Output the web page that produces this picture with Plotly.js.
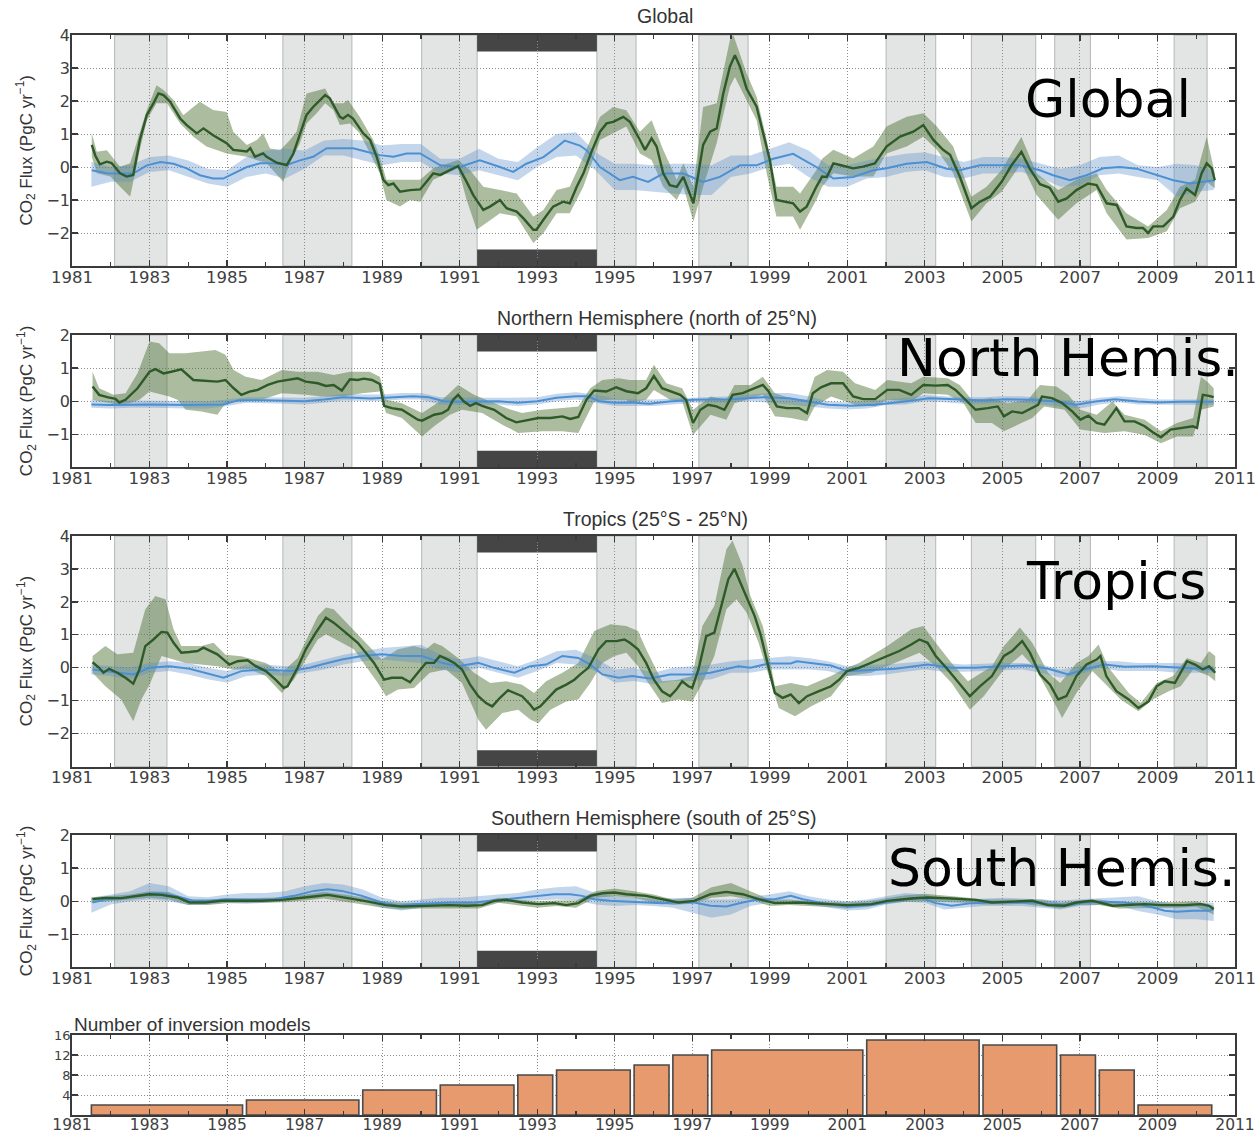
<!DOCTYPE html>
<html><head><meta charset="utf-8">
<script src="https://cdn.plot.ly/plotly-3.0.1.min.js"></script>
<style>html,body{margin:0;padding:0;background:#fff}#chart{width:1260px;height:1135px}</style>
</head><body><div id="chart"></div>
<script>
// ---------------- DATA ----------------
// shaded (grey) periods and Pinatubo period (years)
const shadeStart = [1982.1, 1986.44, 1990.02, 1994.54, 1997.17, 2002.0, 2004.2, 2006.35, 2009.43];
const shadeEnd   = [1983.45, 1988.22, 1991.45, 1995.55, 1998.44, 2003.28, 2005.86, 2007.27, 2010.28];
const pinatuboStart = 1991.45, pinatuboEnd = 1994.54;

// common half-year grid for band edges
const bandT = [1981.5,1982,1982.5,1983,1983.5,1984,1984.5,1985,1985.5,1986,1986.5,1987,1987.5,1988,1988.5,1989,1989.5,1990,
 1990.5,1991,1991.5,1992,1992.5,1993,1993.5,1994,1994.5,1995,1995.5,1996,1996.5,1997,1997.5,1998,1998.5,1999,1999.5,2000,
 2000.5,2001,2001.5,2002,2002.5,2003,2003.5,2004,2004.5,2005,2005.5,2006,2006.5,2007,2007.5,2008,2008.5,2009,2009.5,2010,2010.45];

// ---- Global ----
const globGreenT = [1981.51,1981.6,1981.72,1981.9,1982.02,1982.24,1982.41,1982.58,1982.75,1982.93,
 1983.1,1983.23,1983.36,1983.53,1983.79,1983.96,1984.22,1984.39,1984.64,1984.99,
 1985.16,1985.51,1985.6,1985.72,1985.93,1986.02,1986.28,1986.54,1986.71,1986.88,
 1987.05,1987.22,1987.4,1987.53,1987.65,1987.91,1987.99,1988.12,1988.25,1988.51,
 1988.69,1988.86,1989.03,1989.16,1989.29,1989.46,1989.72,1989.98,1990.15,1990.32,
 1990.5,1990.66,1990.96,1991.18,1991.35,1991.61,1991.78,1992.04,1992.21,1992.47,
 1992.64,1992.9,1992.98,1993.16,1993.41,1993.67,1993.84,1994.02,1994.19,1994.4,
 1994.62,1994.79,1994.96,1995.22,1995.39,1995.65,1995.78,1995.95,1996.08,1996.25,
 1996.42,1996.6,1996.77,1997.03,1997.15,1997.28,1997.46,1997.63,1997.8,1997.97,
 1998.1,1998.23,1998.4,1998.66,1998.83,1999.0,1999.17,1999.43,1999.6,1999.78,
 1999.95,2000.2,2000.35,2000.47,2000.64,2000.81,2001.15,2001.41,2001.71,2002.01,
 2002.36,2002.7,2002.96,2003.22,2003.47,2003.65,2003.9,2004.2,2004.42,2004.68,
 2004.98,2005.24,2005.49,2005.71,2005.97,2006.22,2006.44,2006.66,2006.91,2007.21,
 2007.43,2007.69,2007.95,2008.2,2008.46,2008.63,2008.76,2008.89,2009.15,2009.41,
 2009.58,2009.75,2009.97,2010.14,2010.27,2010.4,2010.48];
const globGreen = [0.67,0.35,0.08,0.16,0.12,-0.19,-0.29,-0.24,0.82,1.58,
 1.93,2.23,2.18,1.98,1.47,1.27,1.02,1.17,0.96,0.72,
 0.52,0.47,0.57,0.31,0.41,0.31,0.13,0.06,0.41,0.97,
 1.58,1.82,2.03,2.18,2.08,1.52,1.47,1.58,1.47,1.02,
 0.82,0.31,-0.39,-0.55,-0.5,-0.75,-0.7,-0.68,-0.44,-0.19,
 -0.24,-0.15,0.03,-0.45,-0.85,-1.3,-1.2,-1.0,-1.25,-1.35,
 -1.55,-1.9,-1.9,-1.6,-1.2,-1.05,-1.1,-0.6,-0.2,0.46,
 1.07,1.32,1.37,1.52,1.37,0.82,0.52,0.87,0.62,-0.19,
 -0.55,-0.6,-0.3,-1.1,-0.2,0.67,1.07,1.17,2.23,3.04,
 3.39,3.04,2.38,1.83,1.02,0.21,-1.0,-1.05,-1.1,-1.35,
 -1.2,-0.6,-0.29,-0.3,0.11,0.06,-0.04,0.01,0.11,0.62,
 0.92,1.07,1.27,0.82,0.52,0.37,-0.29,-1.25,-1.05,-0.9,
 -0.45,0.06,0.46,-0.06,-0.52,-0.63,-1.05,-0.95,-0.7,-0.5,
 -0.55,-1.1,-1.15,-1.8,-1.85,-1.85,-2.0,-1.8,-1.8,-1.5,
 -1.0,-0.65,-0.85,-0.19,0.11,-0.04,-0.4];
const globGreenUpT = [1981.51,1981.64,1981.9,1982.24,1982.5,1982.75,1982.93,1983.18,1983.36,1983.62,
 1983.87,1984.13,1984.3,1984.64,1984.99,1985.16,1985.51,1985.77,1985.93,1986.11,
 1986.37,1986.62,1986.79,1987.05,1987.22,1987.53,1987.74,1988.0,1988.12,1988.42,
 1988.77,1988.94,1989.11,1989.46,1989.98,1990.32,1990.96,1991.27,1991.61,1992.04,
 1992.47,1992.9,1993.16,1993.5,1993.84,1994.19,1994.62,1994.96,1995.3,1995.65,
 1995.95,1996.25,1996.6,1996.77,1997.03,1997.28,1997.63,1997.97,1998.06,1998.4,
 1998.66,1998.92,1999.17,1999.6,1999.78,2000.2,2000.35,2000.64,2001.15,2001.67,
 2002.01,2002.53,2002.96,2003.31,2003.73,2004.2,2004.59,2004.98,2005.49,2005.88,
 2006.44,2006.91,2007.43,2007.69,2008.2,2008.76,2009.24,2009.58,2009.97,2010.27,2010.48];
const globGreenUp = [1.02,0.46,0.51,0.01,0.11,1.02,1.73,2.48,2.33,2.03,
 1.57,1.82,1.98,1.73,1.67,1.07,0.67,0.82,1.02,0.56,
 0.51,0.82,1.07,2.23,2.28,2.38,1.93,1.93,2.03,1.52,
 0.82,0.31,-0.39,-0.39,-0.39,-0.04,0.21,-0.1,-0.6,-0.7,
 -0.8,-1.5,-1.3,-0.7,-0.6,0.31,1.52,1.82,1.72,1.07,
 1.42,0.52,-0.39,0.11,-0.6,1.82,1.93,3.85,4.0,2.84,
 2.13,0.82,-0.6,-0.6,-0.8,-0.1,0.25,0.52,0.26,0.62,
 1.23,1.52,1.63,1.23,0.62,-0.9,-0.6,-0.09,0.92,-0.19,
 -0.7,-0.39,-0.19,-0.7,-1.4,-1.8,-1.3,-0.6,-0.39,0.92,-0.19];
const globGreenLoT = [1981.51,1981.64,1981.99,1982.24,1982.5,1982.75,1982.93,1983.18,1983.45,1983.79,
 1984.13,1984.47,1984.99,1985.51,1986.02,1986.45,1986.62,1986.88,1987.05,1987.31,
 1987.53,1987.74,1987.91,1988.17,1988.42,1988.69,1988.94,1989.11,1989.46,1989.72,
 1989.98,1990.32,1990.96,1991.18,1991.44,1992.04,1992.47,1992.9,1993.16,1993.5,
 1993.84,1994.19,1994.62,1994.96,1995.3,1995.65,1995.95,1996.25,1996.6,1996.77,
 1997.03,1997.28,1997.63,1997.97,1998.1,1998.4,1998.66,1998.92,1999.17,1999.6,
 1999.78,2000.2,2000.35,2000.64,2001.15,2001.67,2002.01,2002.53,2002.96,2003.31,
 2003.73,2004.2,2004.59,2004.98,2005.49,2005.88,2006.44,2006.91,2007.43,2007.69,
 2008.2,2008.76,2009.24,2009.58,2009.97,2010.27,2010.48];
const globGreenLo = [0.31,-0.19,-0.29,-0.6,-0.9,0.52,1.42,1.93,1.93,1.32,
 0.92,0.62,0.41,0.31,0.11,-0.45,0.11,0.72,1.32,1.63,
 1.93,1.73,1.27,1.32,1.02,0.41,-0.19,-1.0,-1.2,-1.0,
 -1.05,-0.39,-0.04,-1.0,-1.9,-1.4,-1.5,-2.3,-2.0,-1.4,
 -1.4,-0.6,0.82,1.02,1.23,0.41,0.21,-0.6,-1.0,-0.6,
 -1.65,-0.6,0.72,2.43,2.73,2.03,1.42,-0.19,-1.5,-1.5,
 -1.9,-1.0,-0.6,-0.19,-0.29,-0.29,0.41,0.62,0.92,0.52,
 -0.19,-1.65,-1.1,-0.75,0.11,-0.85,-1.6,-1.1,-0.7,-1.4,
 -2.2,-2.15,-1.95,-1.25,-1.05,-0.45,-0.65];
const globBlueT = [1981.51,1981.9,1982.24,1982.58,1982.93,1983.28,1983.62,1983.96,1984.3,1984.64,
 1984.9,1985.16,1985.51,1985.85,1986.19,1986.54,1986.88,1987.22,1987.57,1987.91,
 1988.25,1988.6,1988.94,1989.29,1989.63,1989.98,1990.5,1991.0,1991.52,1992.04,
 1992.38,1992.72,1993.16,1993.5,1993.71,1994.1,1994.28,1994.62,1995.13,1995.47,
 1995.86,1996.25,1996.77,1997.28,1997.71,1998.23,1998.66,1999.09,1999.6,2000.2,
 2000.64,2001.15,2001.67,2002.01,2002.53,2003.05,2003.56,2003.9,2004.42,2004.94,
 2005.45,2005.97,2006.31,2006.74,2007.17,2007.6,2008.03,2008.46,2008.89,2009.41,
 2009.84,2010.18,2010.48];
const globBlue = [-0.1,-0.19,-0.2,-0.2,0.05,0.15,0.1,-0.04,-0.25,-0.35,
 -0.35,-0.2,0.0,0.11,0.11,0.06,0.2,0.31,0.57,0.57,
 0.57,0.46,0.36,0.31,0.41,0.41,0.05,0.0,0.2,0.0,
 -0.15,0.1,0.3,0.6,0.8,0.65,0.5,0.0,-0.4,-0.3,
 -0.45,-0.2,-0.2,-0.45,-0.3,0.05,0.05,0.25,0.4,0.0,
 -0.35,-0.3,-0.1,-0.04,0.1,0.15,-0.05,-0.1,0.05,0.05,
 0.05,-0.1,-0.25,-0.4,-0.25,-0.04,0.0,-0.05,-0.2,-0.4,
 -0.5,-0.45,-0.4];
const globBlueUp = [0.15,0.0,0.05,0.3,0.35,0.2,-0.05,-0.1,0.3,0.5,0.55,0.5,0.8,0.85,0.8,0.65,0.7,0.7,
 0.25,0.25,0.55,0.25,0.15,0.6,1.0,1.05,0.45,0.1,0.1,0.05,0.1,0.1,0.05,0.35,0.35,0.55,0.75,0.5,
 0.05,0.05,0.2,0.3,0.4,0.45,0.3,0.15,0.3,0.3,0.25,0.1,-0.05,0.05,0.3,0.35,0.05,0.0,0.1,0.05,-0.1];
const globBlueLo = [-0.6,-0.45,-0.45,-0.15,-0.1,-0.3,-0.5,-0.6,-0.3,-0.2,-0.35,-0.05,0.35,0.35,0.2,0.05,0.15,0.15,
 -0.2,-0.25,-0.1,-0.25,-0.4,0.0,0.3,0.35,-0.1,-0.7,-0.7,-0.75,-0.8,-0.85,-0.85,-0.3,-0.2,0.0,0.1,-0.3,
 -0.6,-0.6,-0.35,-0.3,-0.15,-0.1,-0.3,-0.35,-0.2,-0.2,-0.15,-0.35,-0.6,-0.55,-0.25,-0.2,-0.3,-0.4,-0.9,-0.75,-0.7];

// ---- Northern Hemisphere ----
const nhGreenT = [1981.53,1981.7,1981.91,1982.12,1982.22,1982.38,1982.69,1983.0,1983.15,1983.36,
 1983.56,1983.82,1984.13,1984.44,1984.75,1984.96,1985.17,1985.37,1985.58,1985.79,
 1986.05,1986.3,1986.62,1986.82,1987.03,1987.34,1987.55,1987.75,1987.96,1988.17,
 1988.37,1988.53,1988.74,1988.94,1989.05,1989.25,1989.51,1989.72,1989.92,1990.03,
 1990.34,1990.55,1990.7,1990.83,1990.96,1991.11,1991.27,1991.42,1991.58,1991.89,
 1992.2,1992.46,1992.72,1993.03,1993.34,1993.65,1993.85,1994.06,1994.27,1994.47,
 1994.78,1995.04,1995.3,1995.6,1995.81,1996.01,1996.22,1996.43,1996.69,1996.84,
 1997.02,1997.21,1997.41,1997.62,1997.83,1998.04,1998.3,1998.5,1998.82,1998.97,
 1999.18,1999.44,1999.75,1999.96,2000.11,2000.32,2000.58,2000.89,2001.15,2001.41,
 2001.72,2002.03,2002.34,2002.65,2002.96,2003.28,2003.59,2003.79,2004.05,2004.31,
 2004.62,2004.88,2005.04,2005.25,2005.51,2005.77,2005.92,2006.02,2006.28,2006.54,
 2006.8,2007.01,2007.22,2007.43,2007.63,2007.94,2008.15,2008.41,2008.67,2008.88,
 2009.09,2009.34,2009.6,2009.91,2010.02,2010.17,2010.33,2010.45];
const nhGreen = [0.44,0.19,0.12,0.07,-0.04,0.04,0.39,0.89,0.97,0.84,
 0.89,0.96,0.64,0.62,0.59,0.64,0.39,0.19,0.29,0.34,
 0.49,0.59,0.64,0.69,0.59,0.54,0.46,0.49,0.32,0.66,
 0.64,0.68,0.64,0.52,-0.14,-0.21,-0.26,-0.41,-0.56,-0.59,
 -0.41,-0.36,-0.26,0.04,0.19,-0.01,-0.14,-0.06,-0.14,-0.26,
 -0.51,-0.64,-0.58,-0.51,-0.51,-0.46,-0.54,-0.48,0.04,0.32,
 0.29,0.42,0.3,0.24,0.39,0.76,0.39,0.29,0.19,0.04,
 -0.66,-0.26,-0.11,-0.16,-0.26,0.19,0.24,0.34,0.49,0.29,
 -0.16,-0.21,-0.21,-0.36,0.24,0.42,0.54,0.54,0.14,0.06,
 0.06,0.34,0.34,0.19,0.49,0.47,0.49,0.34,0.04,-0.26,
 -0.21,-0.16,-0.46,-0.31,-0.36,-0.21,-0.11,0.14,0.09,-0.06,
 -0.31,-0.56,-0.44,-0.66,-0.71,-0.21,-0.61,-0.61,-0.76,-0.94,
 -1.09,-0.86,-0.81,-0.76,-0.81,0.19,0.16,0.12];
const nhGreenUpT = [1981.53,1981.7,1982.07,1982.38,1982.69,1983.0,1983.25,1983.51,1983.93,1984.34,
 1984.7,1984.96,1985.17,1985.48,1985.89,1986.41,1986.82,1987.34,1987.75,1988.17,
 1988.68,1988.94,1989.1,1989.51,1990.03,1990.55,1990.96,1991.37,1991.79,1992.2,
 1992.61,1993.13,1993.65,1994.06,1994.37,1994.68,1995.1,1995.39,1995.81,1996.01,
 1996.33,1996.74,1997.02,1997.47,1997.88,1998.09,1998.5,1998.82,1999.13,1999.54,
 1999.96,2000.16,2000.48,2000.89,2001.2,2001.72,2002.03,2002.65,2002.96,2003.59,
 2003.9,2004.21,2004.73,2005.14,2005.66,2005.97,2006.39,2006.7,2007.01,2007.43,
 2007.84,2008.15,2008.67,2009.09,2009.5,2009.92,2010.12,2010.33,2010.45];
const nhGreenUp = [0.89,0.39,0.19,0.24,0.84,1.8,1.75,1.45,1.45,1.5,
 1.55,1.4,0.94,0.74,0.64,0.94,0.89,0.89,0.79,0.89,
 0.89,0.74,0.04,-0.06,-0.36,0.04,0.49,0.19,-0.01,-0.21,
 -0.36,-0.26,-0.21,-0.16,0.39,0.64,0.69,0.64,0.64,1.1,
 0.54,0.39,-0.26,0.14,0.04,0.49,0.49,0.74,0.24,0.09,
 0.04,0.74,0.94,0.89,0.54,0.34,0.64,0.54,0.74,0.69,
 0.49,0.04,0.09,-0.06,0.04,0.49,0.44,0.19,-0.26,-0.41,
 -0.01,-0.41,-0.56,-0.91,-0.66,-0.51,0.74,0.54,0.39];
const nhGreenLoT = [1981.53,1981.75,1982.17,1982.48,1982.74,1983.0,1983.31,1983.51,1983.72,1983.93,
 1984.34,1984.75,1984.96,1985.37,1985.89,1986.41,1987.03,1987.44,1987.96,1988.48,
 1988.94,1989.1,1989.51,1990.03,1990.34,1990.75,1991.06,1991.58,1992.1,1992.51,
 1993.13,1993.65,1994.06,1994.27,1994.47,1994.89,1995.3,1995.39,1995.81,1996.01,
 1996.43,1996.74,1997.02,1997.47,1997.88,1998.09,1998.5,1998.82,1999.13,1999.54,
 1999.96,2000.16,2000.58,2001.2,2001.72,2002.03,2002.65,2002.96,2003.59,2004.0,
 2004.31,2004.73,2005.04,2005.77,2006.08,2006.6,2007.01,2007.63,2008.15,2008.67,
 2009.09,2009.5,2009.92,2010.12,2010.45];
const nhGreenLo = [0.04,-0.01,-0.11,-0.06,0.04,0.29,0.19,0.14,0.04,-0.26,
 -0.31,-0.41,-0.06,-0.01,0.04,0.24,0.19,0.14,0.14,0.24,
 0.29,-0.36,-0.51,-1.07,-0.76,-0.41,-0.26,-0.36,-0.71,-0.96,
 -0.91,-0.91,-0.96,-0.46,-0.01,0.04,0.04,-0.06,0.04,0.34,
 0.04,-0.01,-1.02,-0.41,-0.56,-0.06,0.09,0.19,-0.46,-0.51,
 -0.61,-0.16,0.14,-0.11,-0.16,0.04,-0.01,0.24,0.19,-0.06,
 -0.66,-0.66,-0.91,-0.51,-0.16,-0.26,-0.86,-0.96,-0.91,-1.02,
 -1.27,-1.07,-1.07,-0.26,-0.16];
const nhBlueT = [1981.5,1982,1983,1984,1984.9,1985.3,1986,1987,1987.5,1988,
 1988.7,1989.3,1989.8,1990.2,1990.6,1991,1991.5,1992,1992.5,1993,
 1993.5,1994,1994.3,1994.6,1995,1995.4,1995.9,1996.4,1997.05,1998,
 1998.82,1999.5,2000,2000.5,2001.1,2001.7,2002.5,2003.1,2003.8,2004.5,
 2005.1,2005.75,2006.4,2006.9,2007.4,2007.9,2008.5,2009,2009.6,2010.45];
const nhBlue = [-0.1,-0.12,-0.1,-0.12,-0.1,0.03,0.03,0.0,0.05,0.12,
 0.08,0.12,0.15,0.12,0.0,-0.02,-0.02,0.0,-0.05,0.0,
 0.1,0.15,0.15,0.0,-0.05,-0.04,-0.08,-0.01,0.04,0.06,
 0.12,0.09,-0.01,-0.11,-0.14,-0.11,-0.01,0.09,0.06,0.02,
 0.06,0.04,-0.01,-0.11,-0.01,0.06,-0.01,-0.04,-0.02,-0.02];
const nhBlueUp = [0.05,0.0,0.02,0.02,0.02,0.0,0.0,0.05,0.12,0.12,0.1,0.1,0.15,0.22,0.2,0.2,0.25,0.25,
 0.12,0.1,0.1,0.1,0.1,0.12,0.22,0.27,0.2,0.08,0.05,0.05,0.08,0.1,0.12,0.15,0.2,0.25,0.25,0.15,
 0.0,-0.03,0.0,0.05,0.1,0.18,0.15,0.12,0.12,0.15,0.15,0.1,0.05,0.0,0.1,0.15,0.1,0.05,0.05,0.05,0.05];
const nhBlueLo = [-0.2,-0.22,-0.2,-0.2,-0.2,-0.22,-0.22,-0.15,-0.05,-0.07,-0.08,-0.1,-0.05,0.02,0.0,0.0,0.05,0.05,
 -0.1,-0.12,-0.12,-0.1,-0.15,-0.1,0.0,0.05,-0.05,-0.15,-0.15,-0.15,-0.1,-0.05,-0.05,-0.03,0.0,-0.05,-0.1,-0.15,
 -0.22,-0.25,-0.22,-0.12,-0.1,0.0,-0.03,-0.08,-0.08,-0.05,-0.05,-0.1,-0.15,-0.22,-0.1,-0.03,-0.1,-0.12,-0.12,-0.12,-0.12];

// ---- Tropics ----
const trGreenT = [1981.53,1981.7,1981.81,1981.96,1982.17,1982.38,1982.58,1982.74,1982.89,1983.1,
 1983.31,1983.46,1983.62,1983.82,1984.03,1984.24,1984.39,1984.55,1984.75,1984.91,
 1985.06,1985.27,1985.53,1985.74,1986.0,1986.25,1986.46,1986.56,1986.82,1987.03,
 1987.29,1987.55,1987.75,1988.06,1988.37,1988.58,1988.79,1989.05,1989.25,1989.51,
 1989.72,1989.92,1990.13,1990.34,1990.49,1990.7,1990.86,1991.06,1991.27,1991.48,
 1991.68,1991.84,1992.04,1992.25,1992.51,1992.61,1992.82,1992.92,1993.08,1993.29,
 1993.49,1993.75,1993.96,1994.11,1994.32,1994.58,1994.78,1995.04,1995.25,1995.39,
 1995.6,1995.81,1996.01,1996.22,1996.43,1996.59,1996.74,1996.9,1997.0,1997.16,
 1997.36,1997.57,1997.78,1997.93,1998.09,1998.24,1998.4,1998.61,1998.76,1998.97,
 1999.13,1999.33,1999.54,1999.75,1999.96,2000.27,2000.58,2000.79,2000.99,2001.3,
 2001.62,2002.03,2002.34,2002.65,2002.86,2003.07,2003.28,2003.59,2003.9,2004.16,
 2004.42,2004.73,2005.04,2005.25,2005.51,2005.71,2005.97,2006.23,2006.44,2006.65,
 2006.91,2007.17,2007.43,2007.53,2007.68,2007.94,2008.26,2008.51,2008.77,2008.98,
 2009.19,2009.45,2009.76,2009.97,2010.17,2010.33,2010.49];
const trGreen = [0.17,0.0,-0.15,-0.03,-0.15,-0.3,-0.48,-0.05,0.66,0.86,
 1.09,1.07,0.76,0.46,0.48,0.51,0.61,0.51,0.41,0.25,
 0.1,0.2,0.23,0.05,-0.1,-0.36,-0.61,-0.56,0.0,0.56,
 1.07,1.52,1.37,1.07,0.76,0.46,0.15,-0.36,-0.3,-0.3,
 -0.44,-0.15,0.15,0.15,0.36,0.25,0.15,-0.05,-0.51,-0.86,
 -1.07,-1.17,-0.91,-0.68,-0.81,-0.86,-1.12,-1.27,-1.17,-0.91,
 -0.66,-0.51,-0.36,-0.2,0.0,0.56,0.81,0.81,0.86,0.76,
 0.56,0.15,-0.36,-0.71,-0.86,-0.66,-0.41,-0.56,-0.61,-0.05,
 0.96,1.07,1.98,2.69,3.0,2.59,2.13,1.57,1.02,0.05,
 -0.76,-0.91,-0.81,-1.07,-0.86,-0.71,-0.56,-0.36,-0.1,0.0,
 0.15,0.36,0.51,0.71,0.86,0.76,0.36,-0.05,-0.51,-0.86,
 -0.56,-0.25,0.36,0.51,0.81,0.46,-0.2,-0.51,-0.96,-0.86,
 -0.25,0.1,0.25,0.36,-0.25,-0.71,-0.96,-1.22,-1.02,-0.56,
 -0.41,-0.46,0.2,0.1,-0.05,0.05,-0.15];
const trGreenUpT = [1981.53,1981.86,1982.17,1982.58,1982.89,1983.15,1983.41,1983.62,1983.82,1984.34,
 1984.65,1984.96,1985.37,1986.0,1986.41,1986.82,1987.34,1987.55,1987.75,1988.17,
 1988.58,1988.99,1989.41,1989.82,1990.13,1990.34,1990.55,1990.96,1991.37,1991.79,
 1992.2,1992.61,1992.92,1993.23,1993.65,1994.06,1994.47,1994.89,1995.3,1995.6,
 1995.81,1996.22,1996.64,1997.0,1997.26,1997.57,1997.88,1998.04,1998.3,1998.5,
 1998.82,1998.97,1999.13,1999.54,1999.96,2000.58,2000.89,2001.3,2002.03,2002.65,
 2002.96,2003.28,2003.69,2004.11,2004.73,2005.04,2005.45,2005.77,2006.18,2006.49,
 2006.91,2007.22,2007.48,2007.74,2008.26,2008.57,2008.98,2009.4,2009.76,2010.12,
 2010.33,2010.49];
const trGreenUp = [0.36,0.66,0.41,0.46,1.78,2.18,2.08,1.17,0.66,0.66,
 0.76,0.4,0.35,0.15,-0.15,0.3,1.57,1.83,1.78,1.27,
 0.76,0.25,0.56,0.66,0.56,0.76,0.66,0.3,-0.15,-0.46,
 -0.41,-0.51,-0.76,-0.41,-0.15,0.15,1.12,1.32,1.27,1.12,
 0.56,-0.41,-0.36,-0.25,1.27,1.88,3.6,3.86,3.1,2.18,
 1.27,0.46,-0.56,-0.46,-0.56,-0.25,-0.05,0.15,0.66,1.17,
 1.27,0.76,0.15,-0.41,0.05,0.66,1.22,0.76,-0.15,-0.46,
 0.15,0.36,0.71,0.0,-0.76,-1.07,-0.46,-0.25,0.3,0.15,
 0.51,0.36];
const trGreenLoT = [1981.53,1981.86,1982.27,1982.58,1982.79,1983.0,1983.31,1983.62,1983.93,1984.34,
 1984.75,1985.17,1985.58,1986.0,1986.41,1986.72,1987.03,1987.34,1987.55,1987.96,
 1988.27,1988.58,1988.89,1989.1,1989.41,1989.82,1990.23,1990.65,1991.06,1991.48,
 1991.68,1992.1,1992.51,1992.82,1993.03,1993.34,1993.75,1994.06,1994.37,1994.68,
 1994.99,1995.3,1995.6,1995.81,1996.22,1996.64,1997.0,1997.26,1997.57,1997.88,
 1998.14,1998.4,1998.71,1998.97,1999.23,1999.65,2000.06,2000.58,2000.99,2001.62,
 2002.24,2002.86,2003.28,2003.69,2004.16,2004.52,2005.04,2005.51,2005.87,2006.39,
 2006.54,2006.91,2007.32,2007.63,2008.05,2008.51,2008.88,2009.29,2009.6,2009.92,
 2010.33,2010.49];
const trGreenLo = [-0.15,-0.56,-0.96,-1.62,-0.96,-0.51,0.36,0.25,0.15,0.1,
 0.05,-0.05,-0.05,-0.25,-0.76,-0.36,0.25,0.86,1.02,0.76,
 0.56,0.05,-0.46,-0.86,-0.66,-0.61,-0.15,-0.05,-0.46,-1.57,
 -1.88,-1.37,-1.27,-1.57,-1.68,-1.27,-1.02,-0.96,-0.46,0.15,
 0.36,0.46,0.05,-0.36,-1.07,-0.96,-1.02,-0.46,0.36,1.78,
 2.08,1.68,0.76,-0.25,-1.22,-1.47,-1.17,-0.86,-0.25,-0.15,
 0.15,0.46,0.05,-0.46,-1.27,-0.86,-0.05,0.41,-0.05,-1.17,
 -1.52,-0.76,-0.1,-0.46,-0.96,-1.32,-0.96,-0.71,-0.56,-0.05,
 -0.25,-0.41];
const trBlueT = [1981.53,1981.86,1982.27,1982.58,1983.0,1983.51,1984.03,1984.55,1984.91,1985.37,
 1985.89,1986.62,1987.13,1987.44,1987.96,1988.48,1988.99,1989.51,1990.03,1990.55,
 1990.96,1991.48,1991.89,1992.41,1992.82,1993.23,1993.65,1994.06,1994.37,1994.68,
 1995.1,1995.45,1995.9,1996.43,1997.05,1997.47,1998.19,1998.5,1998.97,1999.54,
 1999.7,2000.16,2000.58,2000.99,2001.62,2002.24,2003.07,2003.69,2004.31,2004.94,
 2005.66,2006.18,2006.7,2007.11,2007.63,2008.15,2008.88,2009.6,2010.12,2010.49];
const trBlue = [-0.05,-0.1,-0.15,-0.2,0.0,0.05,-0.03,-0.2,-0.3,-0.1,
 -0.05,-0.1,0.0,0.1,0.25,0.36,0.41,0.36,0.36,0.15,
 0.05,0.15,0.0,-0.15,0.05,0.1,0.36,0.3,0.1,-0.2,
 -0.3,-0.25,-0.32,-0.2,-0.2,-0.15,0.05,0.0,0.13,0.13,
 0.2,0.13,0.07,-0.1,-0.07,-0.03,0.1,0.0,0.0,0.05,
 0.07,-0.03,-0.2,-0.05,0.1,0.03,0.05,0.0,-0.03,-0.05];
const trBlueUp = [0.1,0.05,0.0,0.15,0.2,0.15,0.0,-0.1,0.1,0.1,0.05,0.1,0.25,0.4,0.5,0.6,0.65,0.7,
 0.4,0.25,0.35,0.2,0.05,0.25,0.5,0.55,0.3,-0.05,0.0,-0.15,0.0,0.05,0.1,0.2,0.25,0.3,0.35,0.3,
 0.2,0.05,0.1,0.1,0.15,0.2,0.15,0.1,0.12,0.15,0.15,0.1,-0.05,0.05,0.2,0.2,0.15,0.15,0.15,0.1,0.05];
const trBlueLo = [-0.2,-0.25,-0.35,-0.15,-0.1,-0.2,-0.35,-0.45,-0.25,-0.2,-0.25,-0.15,-0.05,0.1,0.2,0.25,0.2,0.15,
 -0.05,-0.15,0.0,-0.15,-0.3,-0.1,0.15,0.1,-0.1,-0.45,-0.4,-0.5,-0.4,-0.4,-0.35,-0.15,-0.15,-0.05,-0.05,-0.05,
 -0.1,-0.25,-0.25,-0.2,-0.12,-0.05,-0.12,-0.12,-0.1,-0.08,-0.05,-0.15,-0.3,-0.2,0.0,-0.1,-0.1,-0.1,-0.15,-0.15,-0.15];

// ---- Southern Hemisphere ----
const shGreenT = [1981.53,1981.86,1982.27,1982.69,1983.0,1983.31,1983.72,1984.03,1984.44,1984.86,
 1985.37,1985.89,1986.41,1986.82,1987.24,1987.6,1987.96,1988.27,1988.68,1989.1,
 1989.51,1989.92,1990.34,1990.75,1991.17,1991.58,1991.89,1992.2,1992.61,1993.03,
 1993.44,1993.75,1994.06,1994.37,1994.68,1994.99,1995.3,1995.81,1996.22,1996.64,
 1997.05,1997.47,1997.88,1998.3,1998.71,1999.13,1999.75,2000.37,2000.99,2001.62,
 2002.03,2002.65,2003.07,2003.69,2004.31,2004.73,2005.35,2005.77,2006.18,2006.6,
 2006.91,2007.32,2007.84,2008.36,2008.67,2009.09,2009.71,2010.12,2010.33,2010.45];
const shGreen = [0.06,0.1,0.09,0.16,0.21,0.19,0.11,-0.04,-0.04,0.01,
 0.01,0.01,0.04,0.08,0.14,0.19,0.11,0.06,-0.02,-0.12,
 -0.16,-0.14,-0.14,-0.12,-0.14,-0.12,0.01,0.04,-0.04,-0.09,
 -0.06,-0.12,-0.06,0.16,0.24,0.26,0.21,0.16,0.06,-0.04,
 0.01,0.21,0.28,0.21,0.06,-0.06,-0.04,-0.09,-0.12,-0.09,
 0.01,0.08,0.11,0.08,0.04,-0.04,-0.02,0.01,-0.12,-0.14,
 -0.04,0.01,-0.14,-0.12,-0.09,-0.12,-0.12,-0.09,-0.14,-0.24];
const shGreenUp = [0.12,0.15,0.2,0.3,0.28,0.05,0.05,0.08,0.08,0.1,0.12,0.2,0.28,0.2,0.12,0.0,-0.05,-0.05,
 -0.05,-0.03,-0.03,0.1,0.05,0.0,0.02,0.02,0.3,0.38,0.3,0.2,0.05,0.1,0.42,0.55,0.3,0.05,0.05,0.0,
 -0.02,-0.03,0.0,0.1,0.18,0.22,0.18,0.12,0.05,0.05,0.05,0.05,-0.05,0.03,0.05,-0.05,-0.02,-0.03,-0.03,0.0,-0.15];
const shGreenLo = [-0.05,0.0,0.05,0.1,0.05,-0.12,-0.12,-0.06,-0.06,-0.05,-0.03,0.02,0.08,0.0,-0.1,-0.2,-0.25,-0.22,
 -0.2,-0.22,-0.22,-0.05,-0.12,-0.2,-0.15,-0.2,0.1,0.15,0.1,-0.05,-0.12,-0.08,0.1,0.15,0.05,-0.15,-0.12,-0.15,
 -0.18,-0.22,-0.18,-0.08,-0.02,0.0,-0.02,-0.05,-0.1,-0.1,-0.08,-0.15,-0.22,-0.12,-0.12,-0.22,-0.2,-0.2,-0.2,-0.17,-0.4];
const shBlueT = [1981.53,1981.86,1982.27,1982.69,1983.0,1983.31,1983.72,1984.13,1984.55,1984.96,
 1985.58,1986.2,1986.72,1987.24,1987.6,1987.96,1988.48,1988.99,1989.41,1989.82,
 1990.34,1990.75,1991.37,1991.79,1992.2,1992.61,1993.03,1993.44,1993.85,1994.16,
 1994.47,1994.89,1995.39,1995.81,1996.22,1996.64,1997.05,1997.47,1997.88,1998.3,
 1998.71,1999.13,1999.54,1999.85,2000.37,2000.99,2001.62,2002.24,2002.86,2003.28,
 2003.69,2004.21,2004.73,2005.35,2005.77,2006.28,2006.7,2007.11,2007.63,2008.15,
 2008.46,2008.88,2009.19,2009.5,2009.92,2010.33,2010.45];
const shBlue = [-0.04,0.06,0.08,0.16,0.23,0.24,0.14,0.01,0.01,0.06,
 0.04,0.06,0.16,0.31,0.36,0.31,0.16,-0.04,-0.14,-0.09,
 -0.06,-0.04,-0.04,0.01,0.06,0.11,0.16,0.21,0.21,0.16,
 0.06,0.01,-0.02,-0.04,-0.06,-0.04,-0.04,-0.14,-0.16,-0.04,
 0.06,0.06,0.16,0.06,-0.06,-0.16,-0.12,0.01,0.11,-0.06,
 -0.14,-0.06,-0.04,-0.04,-0.04,-0.09,-0.12,-0.04,-0.02,-0.04,
 -0.09,-0.19,-0.29,-0.32,-0.29,-0.29,-0.24];
const shBlueUp = [0.1,0.2,0.3,0.55,0.45,0.15,0.12,0.2,0.25,0.25,0.3,0.45,0.55,0.5,0.35,0.1,0.0,0.05,
 0.1,0.1,0.15,0.2,0.25,0.35,0.42,0.45,0.25,0.15,0.1,0.08,0.1,0.1,0.05,0.05,0.12,0.2,0.3,0.15,
 0.05,0.0,0.05,0.15,0.25,0.2,0.05,0.05,0.08,0.1,0.08,0.05,0.02,0.06,0.1,0.12,0.15,0.0,-0.1,-0.05,-0.05];
const shBlueLo = [-0.35,-0.1,0.0,0.05,0.0,-0.12,-0.1,-0.05,-0.08,-0.05,0.0,0.1,0.18,0.12,0.0,-0.2,-0.28,-0.2,
 -0.15,-0.15,-0.12,-0.05,0.0,0.02,0.05,0.02,-0.1,-0.15,-0.12,-0.15,-0.2,-0.35,-0.5,-0.4,-0.15,-0.05,0.02,-0.1,
 -0.2,-0.28,-0.25,-0.1,-0.02,-0.05,-0.25,-0.2,-0.15,-0.15,-0.15,-0.2,-0.25,-0.15,-0.12,-0.15,-0.3,-0.4,-0.55,-0.55,-0.6];

// ---- Number of inversion models ----
const binStart = [1981.5,1985.5,1988.5,1990.5,1992.5,1993.5,1995.5,1996.5,1997.5,2001.5,2004.5,2006.5,2007.5,2008.5];
const binEnd   = [1985.4,1988.4,1990.4,1992.4,1993.4,1995.4,1996.4,1997.4,2001.4,2004.4,2006.4,2007.4,2008.4,2010.4];
const nModels  = [2,3,5,6,8,9,10,12,13,15,14,12,9,2];

const panelTitles = ['Global','Northern Hemisphere (north of 25°N)','Tropics (25°S - 25°N)','Southern Hemisphere (south of 25°S)'];
const bigLabels = ['Global','North Hemis.','Tropics','South Hemis.'];
const yTitle = 'CO<sub>2</sub> Flux (PgC yr<sup>−1</sup>)';
const barTitle = 'Number of inversion models';

// ---------------- LAYOUT / STYLE ----------------
const W = 1260, H = 1135, ML = 72, MR = 25;
const PW = W - ML - MR;
const px2x = p => (p - ML) / PW;
const py2y = p => 1 - p / H;

const series = [
  {gT:globGreenT,g:globGreen,gUT:globGreenUpT,gU:globGreenUp,gLT:globGreenLoT,gL:globGreenLo,bT:globBlueT,b:globBlue,bU:globBlueUp,bL:globBlueLo},
  {gT:nhGreenT,g:nhGreen,gUT:nhGreenUpT,gU:nhGreenUp,gLT:nhGreenLoT,gL:nhGreenLo,bT:nhBlueT,b:nhBlue,bU:nhBlueUp,bL:nhBlueLo},
  {gT:trGreenT,g:trGreen,gUT:trGreenUpT,gU:trGreenUp,gLT:trGreenLoT,gL:trGreenLo,bT:trBlueT,b:trBlue,bU:trBlueUp,bL:trBlueLo},
  {gT:shGreenT,g:shGreen,gUT:bandT,gU:shGreenUp,gLT:bandT,gL:shGreenLo,bT:shBlueT,b:shBlue,bU:shBlueUp,bL:shBlueLo}
];
const frames = [
  {top:35,  bot:266,   yr:[-3,4], tv:[-2,-1,0,1,2,3,4], titleY:16,  titleX:665, labR:1193, labY:99},
  {top:335, bot:467.3, yr:[-2,2], tv:[-1,0,1,2],        titleY:318, titleX:657, labR:1241, labY:358},
  {top:536, bot:766.7, yr:[-3,4], tv:[-2,-1,0,1,2,3,4], titleY:519, titleX:655, labR:1208, labY:581},
  {top:835, bot:967.3, yr:[-2,2], tv:[-1,0,1,2],        titleY:818, titleX:653, labR:1237, labY:868}
];
const barFrame = {top:1035, bot:1115};

const TICKFONT = {family:'DejaVu Sans, Verdana, sans-serif', size:16, color:'#404040'};
const TEXTFONT = 'Liberation Sans, Arial, Helvetica, sans-serif';
const AXC = '#3a3a3a';
const GREEN = '#2e5a2a', GREENFILL = 'rgba(80,115,55,0.48)';
const BLUE = '#4d90d2', BLUEFILL = 'rgba(90,140,200,0.36)';
const GRIDDASH = '1px,2px';

const fmt = v => (v < 0 ? '\u2212' + Math.abs(v) : String(v));

const traces = [];
const shapes = [];
const annotations = [];
const layout = {
  width: W, height: H, margin:{l:ML, r:MR, t:0, b:0}, paper_bgcolor:'#fff', plot_bgcolor:'#fff',
  showlegend:false, font:{family:TEXTFONT, color:'#333'}
};

function xAxisDef(anchor, standoff){
  return {anchor:anchor, domain:[0,1], range:[1981,2011], tickmode:'linear', tick0:1981, dtick:2,
    ticks:'inside', ticklen:6, tickwidth:1.2, tickcolor:AXC, showline:true, linecolor:AXC, linewidth:1.8, mirror:'ticks',
    showgrid:true, gridcolor:'#8c8c8c', griddash:GRIDDASH, gridwidth:1, zeroline:false,
    tickfont:Object.assign({}, TICKFONT, {size:16.5}), ticklabelstandoff:standoff,
    minor:{tick0:1981, dtick:1, ticks:'inside', ticklen:4, tickwidth:1.2, tickcolor:AXC, showgrid:false}, fixedrange:true};
}
function yAxisDef(anchor, dom, rng, tv){
  return {anchor:anchor, domain:dom, range:rng, tickmode:'array', tickvals:tv, ticktext:tv.map(fmt),
    ticks:'inside', ticklen:6, tickwidth:1.2, tickcolor:AXC, showline:true, linecolor:AXC, linewidth:1.8, mirror:'ticks',
    showgrid:true, gridcolor:'#8c8c8c', griddash:GRIDDASH, gridwidth:1, zeroline:false, tickfont:TICKFONT,
    ticklabelstandoff:-3, fixedrange:true};
}
const poly = (ut,u,lt,l) => ({x: ut.concat(lt.slice().reverse()), y: u.concat(l.slice().reverse())});

frames.forEach((f, i) => {
  const s = i === 0 ? '' : String(i+1);
  const xa = 'x' + s, ya = 'y' + s;
  layout['xaxis' + s] = xAxisDef(ya, -5);
  layout['yaxis' + s] = yAxisDef(xa, [py2y(f.bot), py2y(f.top)], f.yr, f.tv);
  const d = series[i];
  const gp = poly(d.gUT, d.gU, d.gLT, d.gL);
  const bp = poly(bandT, d.bU, bandT, d.bL);
  traces.push({type:'scatter', mode:'lines', x:gp.x, y:gp.y, xaxis:xa, yaxis:ya, fill:'toself', fillcolor:GREENFILL, line:{width:0, color:'rgba(0,0,0,0)'}, hoverinfo:'skip'});
  traces.push({type:'scatter', mode:'lines', x:bp.x, y:bp.y, xaxis:xa, yaxis:ya, fill:'toself', fillcolor:BLUEFILL, line:{width:0, color:'rgba(0,0,0,0)'}, hoverinfo:'skip'});
  traces.push({type:'scatter', mode:'lines', x:d.bT, y:d.b, xaxis:xa, yaxis:ya, line:{color:BLUE, width:2}, hoverinfo:'skip'});
  traces.push({type:'scatter', mode:'lines', x:d.gT, y:d.g, xaxis:xa, yaxis:ya, line:{color:GREEN, width:2.4}, hoverinfo:'skip'});
  // grey periods
  shadeStart.forEach((s0, k) => {
    shapes.push({type:'rect', layer:'below', xref:xa, yref:ya + ' domain', x0:s0, x1:shadeEnd[k], y0:0, y1:1,
      fillcolor:'#e3e5e5', line:{color:'#b4b7b7', width:1}});
  });
  // Pinatubo bars
  shapes.push({type:'rect', layer:'below', xref:xa, yref:ya, x0:pinatuboStart, x1:pinatuboEnd, y0:f.yr[1]-0.5, y1:f.yr[1], fillcolor:'#454545', line:{width:0}});
  shapes.push({type:'rect', layer:'below', xref:xa, yref:ya, x0:pinatuboStart, x1:pinatuboEnd, y0:f.yr[0], y1:f.yr[0]+0.5, fillcolor:'#454545', line:{width:0}});
  // panel title
  annotations.push({text:panelTitles[i], xref:'paper', yref:'paper', x:px2x(f.titleX), y:py2y(f.titleY), xanchor:'center', yanchor:'middle', showarrow:false,
    font:{family:TEXTFONT, size:19.5, color:'#333'}});
  // y title
  annotations.push({text:yTitle, xref:'paper', yref:'paper', x:px2x(26), y:py2y((f.top+f.bot)/2), xanchor:'center', yanchor:'middle', textangle:-90, showarrow:false,
    font:{family:TEXTFONT, size:17, color:'#333'}});
  // big overlay label
  annotations.push({text:bigLabels[i], xref:'paper', yref:'paper', x:px2x(f.labR), y:py2y(f.labY), xanchor:'right', yanchor:'middle', showarrow:false,
    font:{family:'DejaVu Sans, sans-serif', size:52, color:'#000'}});
});

// bar panel
layout.xaxis5 = xAxisDef('y5', -5);
layout.xaxis5.tickfont = Object.assign({}, TICKFONT, {size:15.5});
layout.yaxis5 = yAxisDef('x5', [py2y(barFrame.bot), py2y(barFrame.top)], [0,16], [4,8,12,16]);
layout.yaxis5.tickfont = Object.assign({}, TICKFONT, {size:13});
traces.push({type:'bar', xaxis:'x5', yaxis:'y5',
  x: binStart.map((s,k) => (s + binEnd[k]) / 2), width: binStart.map((s,k) => binEnd[k] - s), y: nModels,
  marker:{color:'#e79a6d', line:{color:'#4a4a4a', width:1.6}}, hoverinfo:'skip'});
annotations.push({text:barTitle, xref:'paper', yref:'paper', x:px2x(72), y:py2y(1024), xanchor:'left', yanchor:'middle', showarrow:false,
  font:{family:TEXTFONT, size:19, color:'#333'}});

layout.shapes = shapes;
layout.annotations = annotations;
Plotly.newPlot('chart', traces, layout, {displayModeBar:false, staticPlot:true});
</script>
</body></html>
